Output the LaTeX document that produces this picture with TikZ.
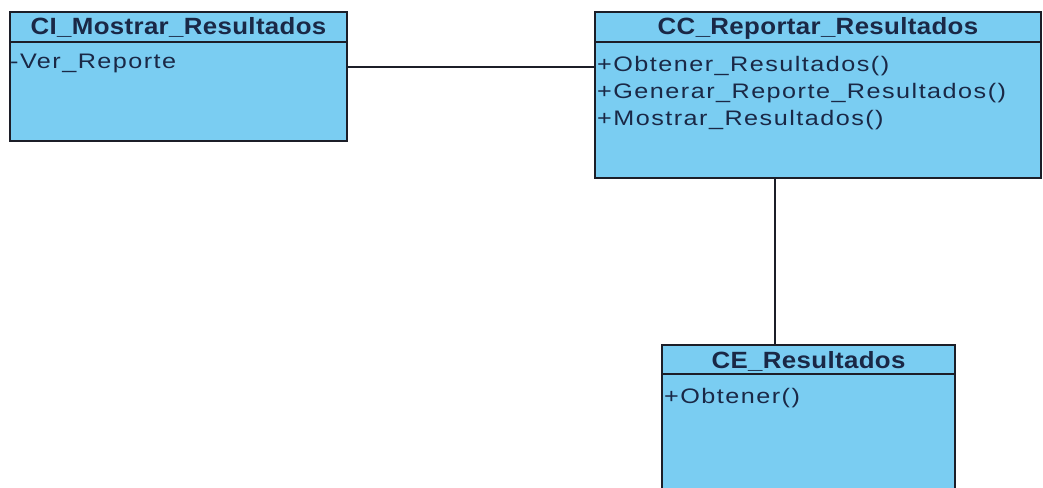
\documentclass[tikz,border=0pt]{standalone}
\usepackage{fontspec}
\setmainfont{Liberation Sans}
\newfontfamily\bodyfont[FakeStretch=1.2,LetterSpace=7]{Liberation Sans}
\newfontfamily\headfont[FakeStretch=1.1,LetterSpace=1.5]{Liberation Sans}
\definecolor{classfill}{RGB}{122,205,242}
\definecolor{classtext}{RGB}{26,40,70}
\definecolor{classline}{RGB}{28,30,40}
\begin{document}
\begin{tikzpicture}[x=1pt,y=-1pt,
  classbox/.style={draw=classline, line width=2pt, fill=classfill, anchor=north west, inner sep=0pt, outer sep=0pt},
  classname/.style={anchor=base, inner sep=0pt, text=classtext, font=\headfont\bfseries\fontsize{23.5}{26}\selectfont},
  member/.style={anchor=base west, inner sep=0pt, text=classtext, font=\bodyfont\fontsize{21}{26}\selectfont},
  assoc/.style={draw=classline, line width=2pt}]
\useasboundingbox (0,0) rectangle (1043,487);
\clip (0,0) rectangle (1043,487);
\fill[white] (0,0) rectangle (1043,487);

% CI_Mostrar_Resultados
\node[classbox, minimum width=337pt, minimum height=129pt] (ci) at (10,12) {};
\draw[classline, line width=1.5pt] (10,42) -- (347,42);
\node[classname] (ciname) at (178.5,35) {CI\_Mostrar\_Resultados};
\node[member] (ciattr) at (10,68) {-Ver\_Reporte};

% CC_Reportar_Resultados
\node[classbox, minimum width=446pt, minimum height=166pt] (cc) at (595,12) {};
\draw[classline, line width=1.5pt] (595,42) -- (1041,42);
\node[classname] (ccname) at (818,35) {CC\_Reportar\_Resultados};
\node[member] (ccop1) at (597,71) {+Obtener\_Resultados()};
\node[member] (ccop2) at (597,98) {+Generar\_Reporte\_Resultados()};
\node[member] (ccop3) at (597,125) {+Mostrar\_Resultados()};

% CE_Resultados
\node[classbox, minimum width=293pt, minimum height=160pt] (ce) at (662,345) {};
\draw[classline, line width=1.5pt] (662,374) -- (955,374);
\node[classname] (cename) at (808.5,368) {CE\_Resultados};
\node[member] (ceop1) at (664,403) {+Obtener()};

% associations
\draw[assoc] (ci.east |- 0,67) -- (cc.west |- 0,67);
\draw[assoc] (cc.south -| 775,0) -- (ce.north -| 775,0);
\end{tikzpicture}
\end{document}
